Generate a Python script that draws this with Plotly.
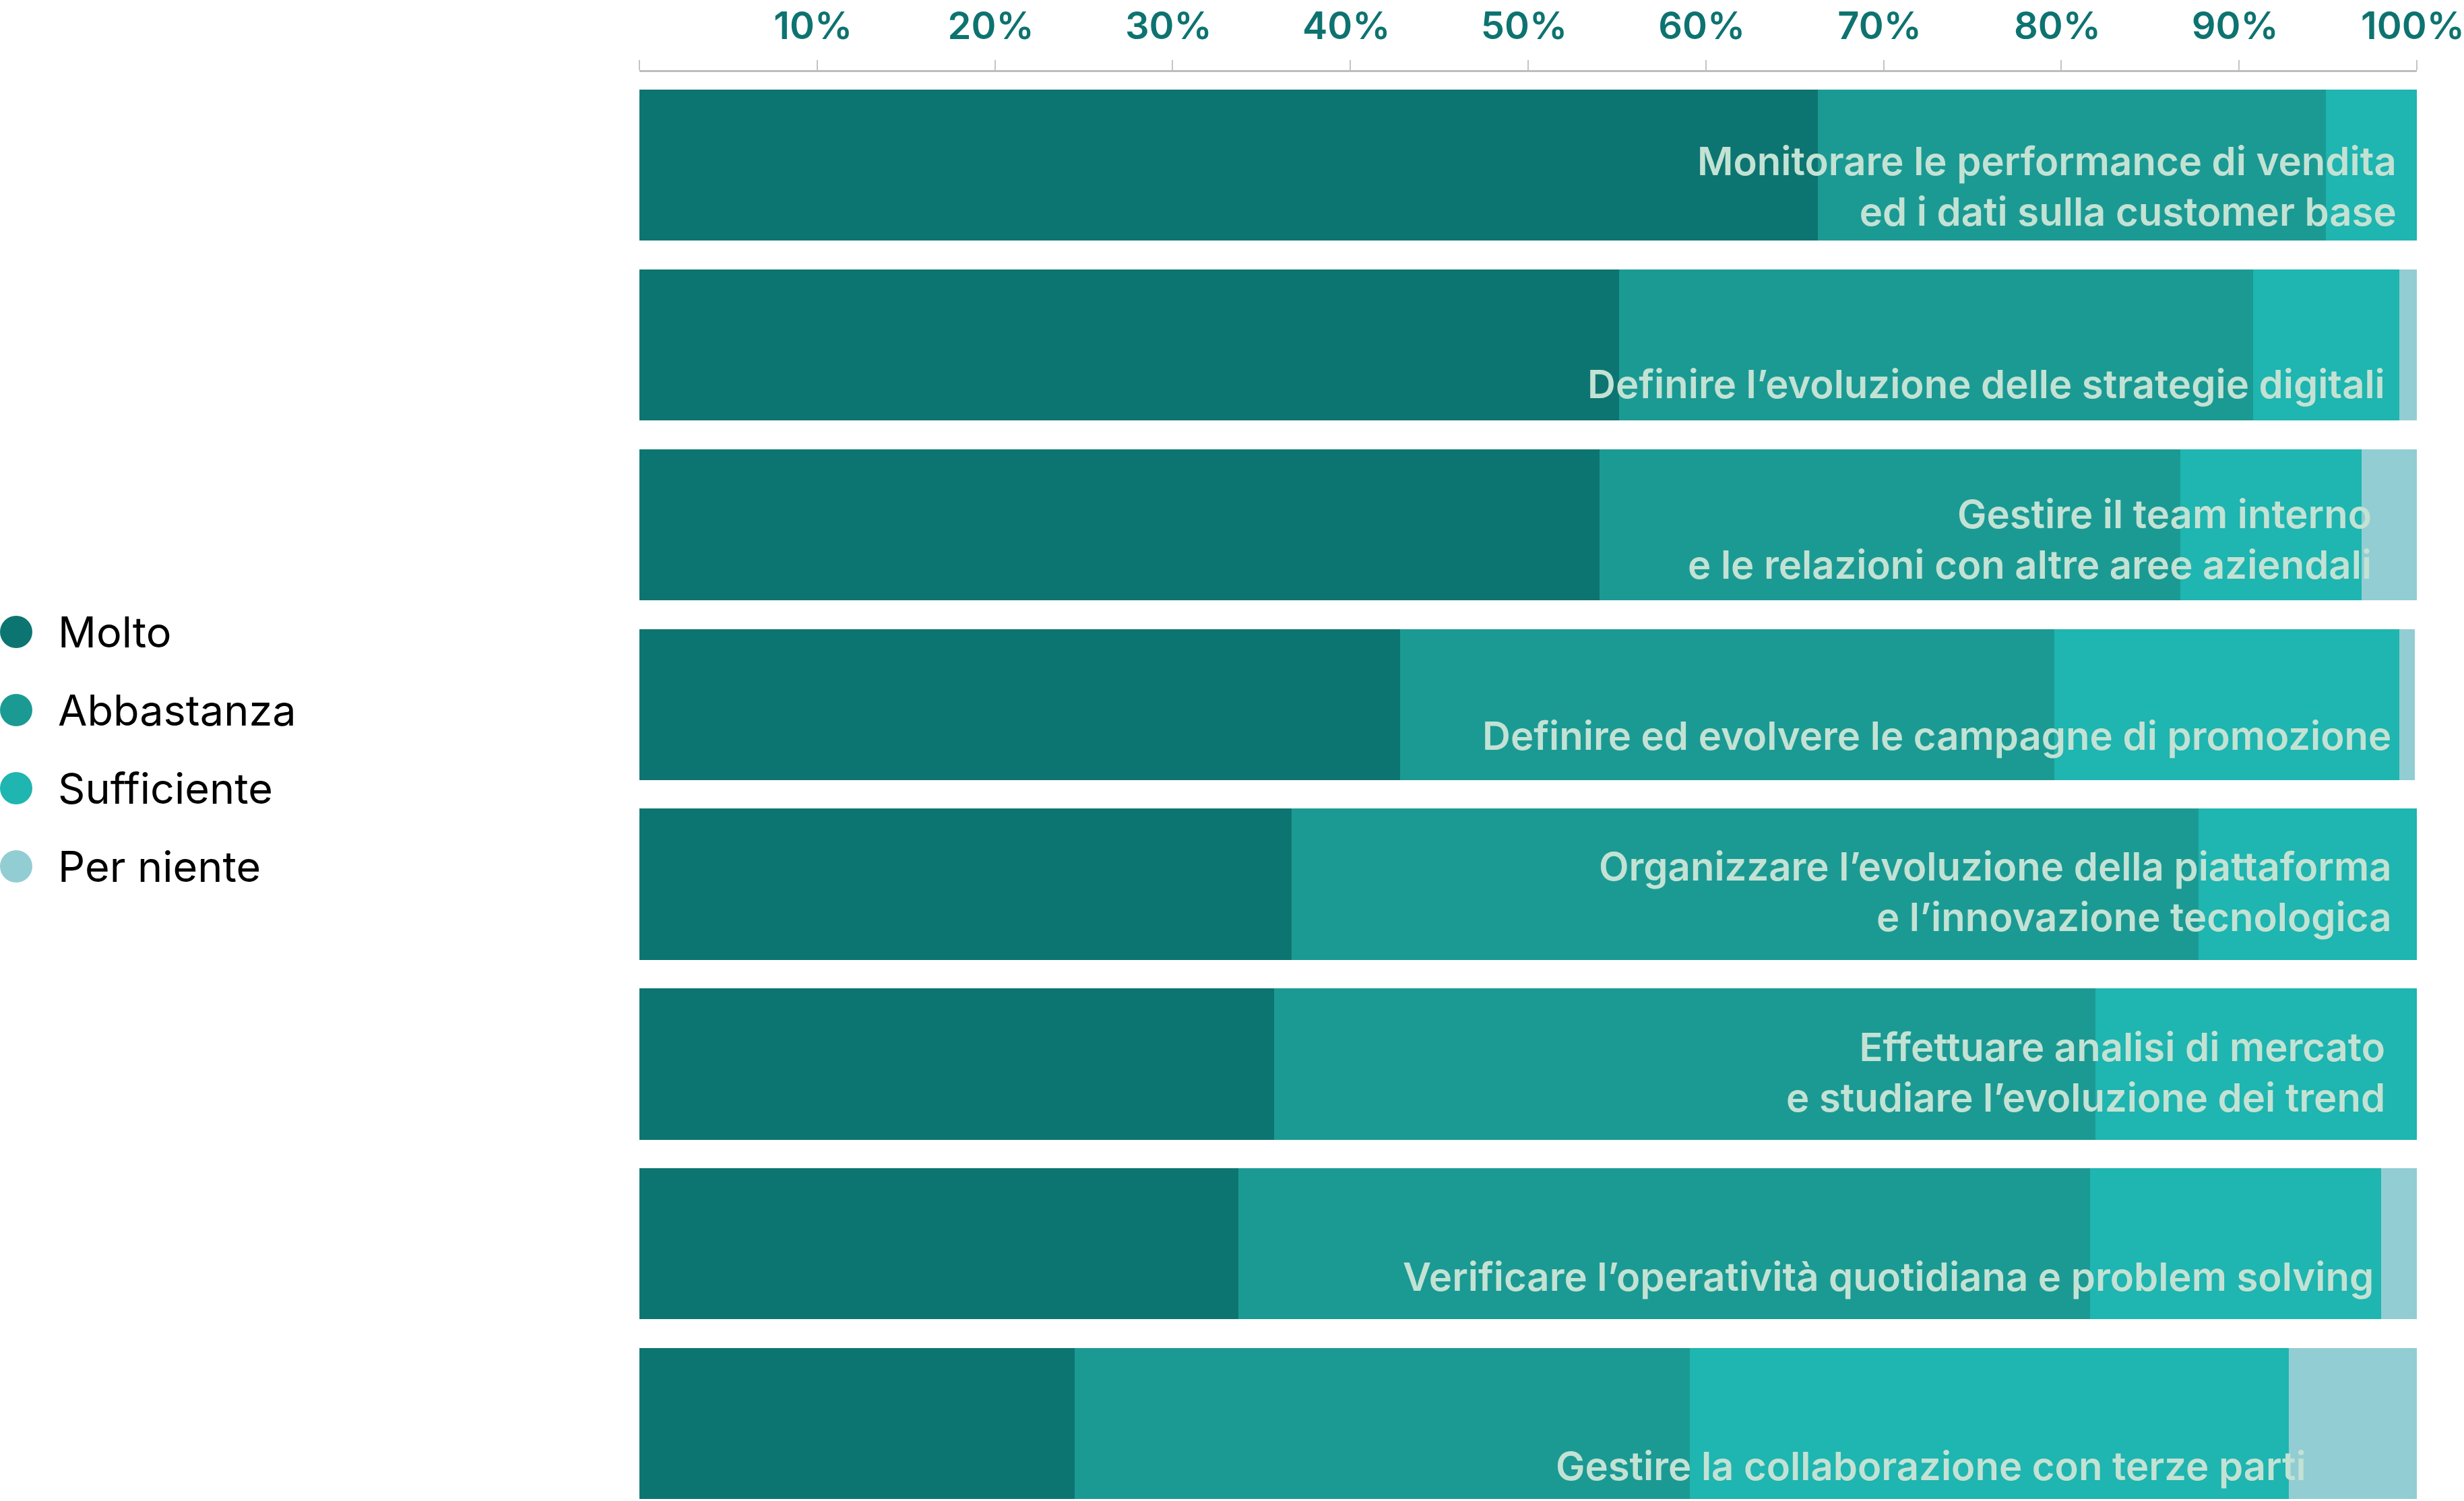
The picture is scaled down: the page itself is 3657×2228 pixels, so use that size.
import plotly.graph_objects as go

# ---------------- data ----------------
categories = [
    "Monitorare le performance di vendita<br>ed i dati sulla customer base",
    "Definire l’evoluzione delle strategie digitali",
    "Gestire il team interno<br>e le relazioni con altre aree aziendali",
    "Definire ed evolvere le campagne di promozione",
    "Organizzare l’evoluzione della piattaforma<br>e l’innovazione tecnologica",
    "Effettuare analisi di mercato<br>e studiare l’evoluzione dei trend",
    "Verificare l’operatività quotidiana e problem solving",
    "Gestire la collaborazione con terze parti",
]
series_names = ["Molto", "Abbastanza", "Sufficiente", "Per niente"]
molto       = [66.3, 55.1, 54.0, 42.8, 36.7, 35.7, 33.7, 24.5]
abbastanza  = [28.6, 35.7, 32.7, 36.8, 51.0, 46.2, 47.9, 34.6]
sufficiente = [5.1,  8.2, 10.2, 19.4, 12.3, 18.1, 16.4, 33.7]
per_niente  = [0.0,  1.0,  3.1,  0.9,  0.0,  0.0,  2.0,  7.2]
tick_values = [0, 10, 20, 30, 40, 50, 60, 70, 80, 90, 100]
tick_labels = ["", "10%", "20%", "30%", "40%", "50%", "60%", "70%", "80%", "90%", "100%"]

# ---------------- style ----------------
colors = ["#0d7571", "#1b9a94", "#1fb5b0", "#92cdd3"]
label_color = "#c3e2d4"
tick_color = "#0d7370"
W, H = 3657, 2228
plot_left, plot_right, plot_top = 949, 3587, 107
bar_width = 0.84
label_right = [98.95, 98.3, 97.55, 98.65, 98.65, 98.3, 97.65, 93.85]  # label right edge (axis %)
label_yshift = [6, 17, 16, 29, 27, 26, 26, 12]                        # px above bar bottom
font_main = "Inter"

values = [molto, abbastanza, sufficiente, per_niente]
ypos = list(range(len(categories)))

fig = go.Figure()
for name, vals, col in zip(series_names, values, colors):
    fig.add_trace(go.Bar(
        name=name, x=vals, y=ypos, orientation="h",
        marker=dict(color=col, line=dict(width=0)),
        width=bar_width, showlegend=False, hoverinfo="x+name",
    ))

# category labels inside bars
for i, txt in enumerate(categories):
    fig.add_annotation(
        x=label_right[i], y=i + bar_width / 2, xref="x", yref="y",
        text=txt, showarrow=False, xanchor="right", yanchor="bottom",
        align="right", yshift=label_yshift[i],
        font=dict(family=font_main, size=58, color=label_color, weight=600),
    )

# custom legend (large circles)
plot_w = plot_right - plot_left
plot_h = H - plot_top
leg_x_circle, leg_x_text, leg_y0, leg_dy, leg_r = 24, 84, 938, 116, 24
for k, (name, col) in enumerate(zip(series_names, colors)):
    ypix = leg_y0 + k * leg_dy
    px = (leg_x_circle - plot_left) / plot_w
    py = (H - ypix) / plot_h
    fig.add_shape(type="circle", xref="paper", yref="paper",
                  xsizemode="pixel", ysizemode="pixel",
                  xanchor=px, yanchor=py,
                  x0=-leg_r, x1=leg_r, y0=-leg_r, y1=leg_r,
                  fillcolor=col, line=dict(width=0))
    fig.add_annotation(x=(leg_x_text - plot_left) / plot_w, y=py,
                       xref="paper", yref="paper", text=name, showarrow=False,
                       xanchor="left", yanchor="middle",
                       font=dict(family=font_main, size=63, color="#000000"))

fig.update_layout(
    width=W, height=H, barmode="stack", bargap=0,
    margin=dict(l=plot_left, r=W - plot_right, t=plot_top, b=0, pad=0, autoexpand=False),
    paper_bgcolor="white", plot_bgcolor="white",
    xaxis=dict(range=[0, 100.0001], side="top", tickvals=tick_values, ticktext=tick_labels,
               ticks="outside", ticklen=15, tickwidth=2, tickcolor="#c4c4c4",
               ticklabelstandoff=9, ticklabelshift=-6, ticklabeloverflow="allow",
               automargin=False,
               showline=True, linecolor="#bdbdbd", linewidth=3,
               showgrid=False, zeroline=False, fixedrange=True,
               tickfont=dict(family=font_main, size=56, color=tick_color, weight=600)),
    yaxis=dict(range=[len(categories) - 0.57, -0.517], showticklabels=False, automargin=False,
               showgrid=False, zeroline=False, showline=False, ticks="", fixedrange=True),
)

fig.write_html("out.html")
